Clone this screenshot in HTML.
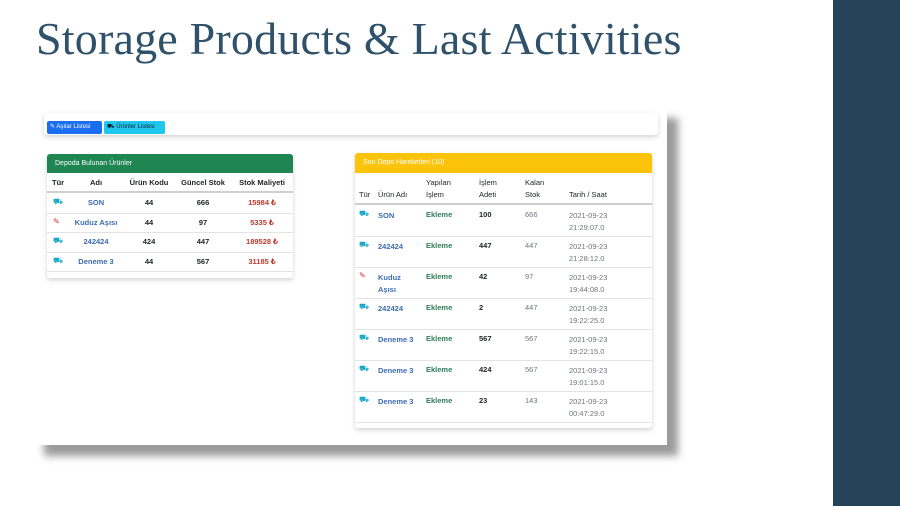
<!DOCTYPE html>
<html><head><meta charset="utf-8"><style>
*{margin:0;padding:0;box-sizing:border-box}
body{width:900px;height:506px;position:relative;background:#fff;font-family:"Liberation Sans",sans-serif;overflow:hidden}
.abs{position:absolute}
#title{left:36px;top:12px;font-family:"Liberation Serif",serif;font-size:46px;color:#2f5169;white-space:nowrap;letter-spacing:0.2px}
#bar{left:833px;top:0;width:67px;height:506px;background:#264459}
#shadow{left:44px;top:118px;width:634px;height:338px;background:#9a9a9a;filter:blur(4px)}
#shot{left:36px;top:110px;width:631px;height:335px;background:#fff}
.card{position:absolute;background:#fff;box-shadow:0 2px 5px rgba(0,0,0,.18);border-radius:3px}
.btn{position:absolute;top:8px;height:13px;font-size:6px;line-height:13px;padding-left:3px;border-radius:2px}
.hdr{position:absolute;left:0;right:0;top:0;height:19px;font-size:7px;line-height:19px;padding-left:8px;color:#fff}
.c{position:absolute;font-size:7.5px;color:#212529;white-space:nowrap}
.b{font-weight:bold}
.lnk{color:#3c6cb4;font-weight:bold}
.red{color:#c0392b;font-weight:bold}
.grn{color:#2e7d5a;font-weight:bold}
.gry{color:#6c757d}
.line{position:absolute;left:0;right:0;height:1px;background:#e3e3e3}
.ic{position:absolute;font-size:8px}
</style></head><body>
<div id="bar" class="abs"></div>
<div id="title" class="abs">Storage Products &amp; Last Activities</div>
<div id="shadow" class="abs"></div>
<div id="shot" class="abs">
  <div class="card" style="left:8px;top:3px;width:614px;height:22px">
    <div class="btn" style="left:3px;width:55px;background:#1a6ff0;color:#fff">✎ Aşılar Listesi</div>
    <div class="btn" style="left:60px;width:61px;background:#1fc6ee;color:#123">⛟ Ürünler Listesi</div>
  </div>

  <div class="card" id="left" style="left:11px;top:44px;width:246px;height:124px">
    <div class="hdr" style="background:#1e8553;border-radius:3px 3px 0 0">Depoda Bulunan Ürünler</div>
  </div>

  <div class="card" id="right" style="left:319px;top:43px;width:297px;height:275px">
    <div class="hdr" style="background:#fbc30a;border-radius:3px 3px 0 0;height:20px;line-height:20px">Son Depo Hareketleri (10)</div>
  </div>
</div>
<script>
const leftRows=[["car","SON","44","666","15984 ₺"],["syr","Kuduz Aşısı","44","97","5335 ₺"],["car","242424","424","447","189528 ₺"],["car","Deneme 3","44","567","31185 ₺"]];
const rightRows=[["car","SON","100","666","21:29:07.0"],["car","242424","447","447","21:28:12.0"],["syr","Kuduz|Aşısı","42","97","19:44:08.0"],["car","242424","2","447","19:22:25.0"],["car","Deneme 3","567","567","19:22:15.0"],["car","Deneme 3","424","567","19:01:15.0"],["car","Deneme 3","23","143","00:47:29.0"]];
function cell(p,x,y,txt,cls,center){const d=document.createElement('div');d.className='c '+(cls||'');d.style.top=y+'px';
 if(center){d.style.left=(x-40)+'px';d.style.width='80px';d.style.textAlign='center';}else d.style.left=x+'px';
 d.innerHTML=txt;
 
 
 p.appendChild(d);return d;}
function icon(p,x,y,t){const d=document.createElement('div');d.className='ic';d.style.left=x+'px';d.style.top=y+'px';
 d.textContent=t==='car'?'⛟':'✎';d.style.color=t==='car'?'#17a9c9':'#d0303a';
 
 
 p.appendChild(d);}
function line(p,y,h,c){const d=document.createElement('div');d.className='line';d.style.top=y+'px';if(h){d.style.height=h+'px';d.style.background=c;}
 
 
 p.appendChild(d);}
const L=document.getElementById('left');
[['Tür',5,false],['Adı',49,true],['Ürün Kodu',102,true],['Güncel Stok',156,true],['Stok Maliyeti',215,true]].forEach(h=>cell(L,h[1],24,h[0],'b',h[2]));
line(L,37,2,'#cfcfcf');
leftRows.forEach((r,i)=>{const y=39+i*19.5;icon(L,6,y+4,r[0]);cell(L,49,y+5,r[1],'lnk',true);cell(L,102,y+5,r[2],'b',true);cell(L,156,y+5,r[3],'b',true);cell(L,215,y+5,r[4],'red',true);line(L,y+19.5);});
const R=document.getElementById('right');
const hx=[4,23,71,124,170,214];
cell(R,hx[0],36,'Tür','');cell(R,hx[1],36,'Ürün Adı','');cell(R,hx[2],24,'Yapılan<br>İşlem','');cell(R,hx[3],24,'İşlem<br>Adeti','');cell(R,hx[4],24,'Kalan<br>Stok','');cell(R,hx[5],36,'Tarih / Saat','');
R.querySelectorAll('.c').forEach(e=>e.style.lineHeight='12px');
line(R,50,2,'#cfcfcf');
rightRows.forEach((r,i)=>{const y=52+i*31;icon(R,4,y+4,r[0]);
 const n=cell(R,hx[1],y+5,r[1].replace('|','<br>'),'lnk');n.style.lineHeight='12px';
 cell(R,hx[2],y+5,'Ekleme','grn');cell(R,hx[3],y+5,r[2],'b');cell(R,hx[4],y+5,r[3],'gry');
 const t=cell(R,hx[5],y+5,'2021-09-23<br>'+r[4],'gry');t.style.lineHeight='12px';
 line(R,y+31);});
</script>
</body></html>
